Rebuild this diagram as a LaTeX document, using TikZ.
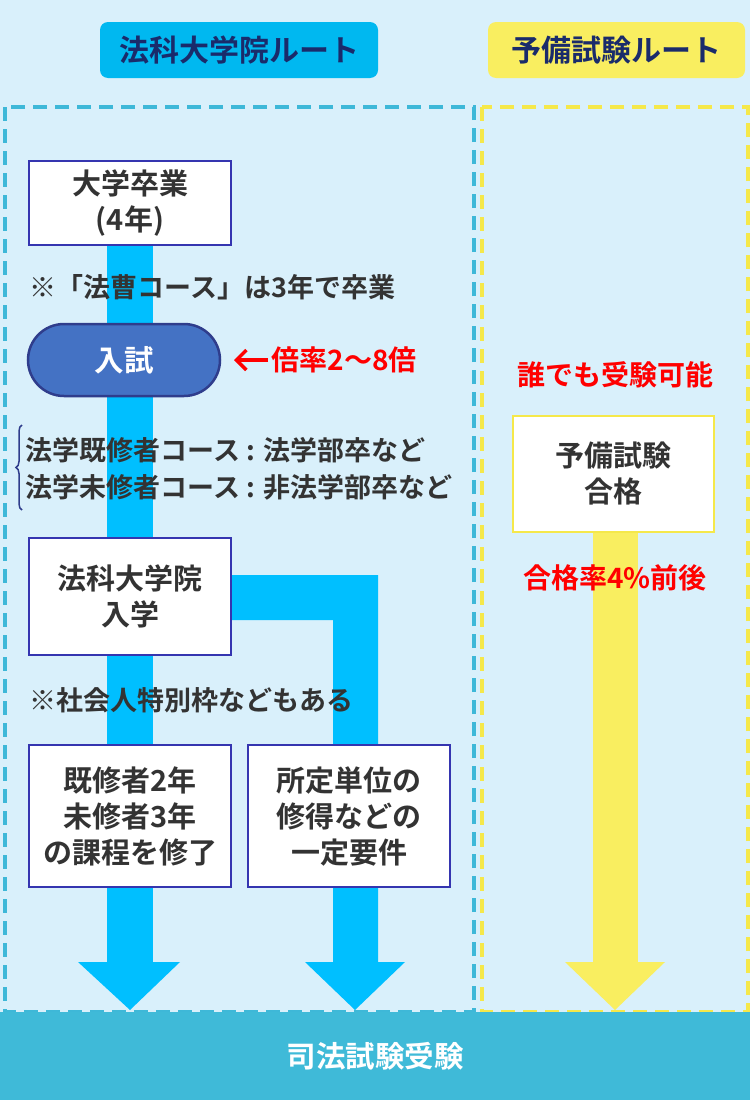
\documentclass[tikz,border=0pt]{standalone}
\usepackage{fontspec}
\setmainfont{Noto Sans CJK JP}[BoldFont={* Bold}]
\usetikzlibrary{decorations.pathreplacing,arrows.meta}
\definecolor{bg}{HTML}{D9F0FB}
\definecolor{tabblue}{HTML}{00B8F0}
\definecolor{tabyel}{HTML}{F9EE60}
\definecolor{navy}{HTML}{1A2B6B}
\definecolor{dblue}{HTML}{3EB8D8}
\definecolor{dyel}{HTML}{F5E84A}
\definecolor{shaft}{HTML}{00BFFF}
\definecolor{boxb}{HTML}{3535B0}
\definecolor{pill}{HTML}{4472C4}
\definecolor{pillb}{HTML}{2F3D8C}
\definecolor{txt}{HTML}{333333}
\definecolor{red1}{HTML}{FF0000}
\definecolor{bottom}{HTML}{3FBAD8}
\tikzset{
  tab/.style={rounded corners=8pt,font=\fontsize{30}{34}\selectfont\bfseries,text=navy},
  wbox/.style={draw=boxb,line width=2.5pt,fill=white,align=center,font=\fontsize{29}{36}\selectfont\bfseries,text=txt},
  note/.style={anchor=west,font=\fontsize{27}{32}\selectfont\bfseries,text=txt},
  rnote/.style={font=\fontsize{28}{32}\selectfont\bfseries,text=red1},
}
\begin{document}
\begin{tikzpicture}[x=1pt,y=-1pt]
\fill[bg] (0,0) rectangle (750,1100);
\useasboundingbox (0,0) rectangle (750,1100);
% tabs
\node[tab,fill=tabblue,minimum width=278pt,minimum height=56pt] (t1) at (239,50) {法科大学院ルート};
\node[tab,fill=tabyel,minimum width=257pt,minimum height=56pt] (t2) at (616.5,50) {予備試験ルート};
% dashed frames
\draw[dblue,line width=4pt,dash pattern=on 14pt off 8pt] (5,107) rectangle (474,1012);
\draw[dyel,line width=4pt,dash pattern=on 14pt off 8pt] (482,107) rectangle (748,1012);
% shafts
\fill[shaft] (107,245) rectangle (153,962);
\fill[shaft] (78,962) -- (180,962) -- (130,1010) -- cycle;
\fill[shaft] (230,575) -- (378,575) -- (378,962) -- (405,962) -- (355,1010) -- (305,962) -- (333,962) -- (333,620) -- (230,620) -- cycle;
\fill[tabyel] (593,532) rectangle (638,962);
\fill[tabyel] (565,962) -- (665,962) -- (615,1010) -- cycle;
% bottom bar
\fill[bottom] (0,1012) rectangle (750,1100);
\node[font=\fontsize{29.5}{34}\selectfont\bfseries,text=white] (exam) at (375,1056) {司法試験受験};
% left column
\node[wbox,minimum width=202pt,minimum height=84pt] (grad) at (130,203) {大学卒業\\(4年)};
\node[note] (n1) at (26,287) {※「法曹コース」は3年で卒業};
\node[draw=pillb,line width=2.5pt,fill=pill,rounded corners=36pt,minimum width=192pt,minimum height=72pt,text=white,font=\fontsize{29.5}{34}\selectfont\bfseries] (nyushi) at (124,360) {入試};
\node[rnote,anchor=west] (rate) at (268,360) {倍率2〜8倍};
\coordinate (ra) at (234,360);
\draw[red1,line width=3.5pt,-{Straight Barb[length=10pt,width=20pt]}] (rate.west) -- (ra);
\draw[pillb,line width=1.5pt,decorate,decoration={brace,amplitude=6pt,mirror}] (22,425) -- (22,510);
\node[note] (c1) at (22,450) {法学既修者コース : 法学部卒など};
\node[note] (c2) at (22,487) {法学未修者コース : 非法学部卒など};
\node[wbox,minimum width=202pt,minimum height=117pt] (adm) at (130,596.5) {法科大学院\\入学};
\node[note] (n2) at (26,700) {※社会人特別枠などもある};
\node[wbox,minimum width=202pt,minimum height=142pt] (b1) at (130,816) {既修者2年\\未修者3年\\の課程を修了};
\node[wbox,minimum width=202pt,minimum height=142pt] (b2) at (349,816) {所定単位の\\修得などの\\一定要件};
% right column
\node[rnote] (any) at (615,375) {誰でも受験可能};
\node[wbox,draw=dyel,minimum width=201pt,minimum height=116pt] (yb) at (613.5,474) {予備試験\\合格};
\node[rnote] (pass) at (615,578) {合格率4\%前後};
\end{tikzpicture}
\end{document}
